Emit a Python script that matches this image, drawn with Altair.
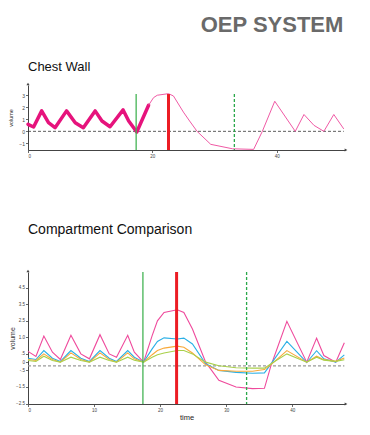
import altair as alt
import pandas as pd

# ---------------- Chest Wall (top) ----------------
cw_thick_t = [0, 0.9, 2.2, 3.3, 4.35, 6.2, 7.6, 8.9, 10.8, 11.9, 13.2, 15.3, 16.2, 17.5, 19.4]
cw_thick_v = [0.58, 0.36, 1.7, 0.72, 0.3, 1.7, 0.72, 0.3, 1.7, 0.86, 0.38, 1.78, 0.86, -0.06, 2.17]
cw_thin_t = [19.4, 20.2, 20.8, 22.6, 23.4, 25.0, 26.0, 27.2, 29.4, 32.9, 36.3, 37.7, 39.7, 43.0, 44.4, 46.0, 47.6, 49.2, 50.8]
cw_thin_v = [2.17, 2.8, 3.0, 3.13, 2.94, 1.6, 0.86, 0.0, -1.08, -1.45, -1.5, 0.0, 2.5, 0.0, 1.4, 0.5, 0.0, 1.4, 0.2]
cw_events = [17.4, 22.6, 33.2]
cw_event_top = 3.1
cw_xticks = [0, 20, 40]
cw_yticks = [-1, 0, 1, 2, 3]

# ---------------- Compartment Comparison (bottom) ----------------
cc_time = [0, 1.2, 2.4, 3.7, 4.9, 6.5, 8.0, 9.3, 10.9, 12.3, 13.4, 15.1, 16.1, 17.5, 18.8, 19.6,
           20.6, 22.6, 23.6, 24.9, 26.9, 28.9, 31.5, 34.0, 35.8, 36.8, 39.2, 42.2, 43.7, 44.8, 46.6, 47.9]
cc_pink = [0.65, 0.35, 1.58, 0.6, 0.16, 1.62, 0.5, 0.2, 1.66, 0.5, 0.3, 1.62, 0.6, 0.0, 1.6, 2.5,
           3.0, 3.17, 3.0, 2.0, 0.0, -1.1, -1.5, -1.6, -1.58, -0.2, 2.47, 0.0, 1.45, 0.4, 0.0, 1.17]
cc_blue = [0.24, 0.16, 0.7, 0.24, 0.04, 0.7, 0.24, 0.04, 0.7, 0.24, 0.04, 0.7, 0.3, 0.0, 0.8, 1.25,
           1.47, 1.4, 1.45, 1.1, -0.1, -0.5, -0.62, -0.67, -0.65, -0.1, 1.25, -0.02, 0.69, 0.2, 0.0, 0.44]
cc_orange = [0.16, 0.1, 0.5, 0.16, 0.0, 0.56, 0.16, 0.0, 0.56, 0.16, 0.0, 0.56, 0.2, 0.0, 0.45, 0.7,
             0.85, 0.97, 0.9, 0.55, -0.16, -0.5, -0.55, -0.55, -0.45, -0.15, 0.7, 0.0, 0.36, 0.15, 0.05, 0.25]
cc_lime = [0.1, 0.04, 0.36, 0.1, 0.0, 0.3, 0.1, 0.0, 0.3, 0.1, 0.0, 0.3, 0.12, 0.0, 0.3, 0.45,
           0.55, 0.7, 0.7, 0.5, 0.0, -0.22, -0.34, -0.36, -0.36, -0.1, 0.5, 0.0, 0.3, 0.12, 0.05, 0.15]
cc_series = ["pink", "blue", "orange", "lime"]
cc_colors = ["#ef4a9c", "#2bb0e6", "#f8a93a", "#a9d04a"]
cc_events = [17.4, 22.5, 33.1]
cc_baseline = -0.22
cc_xticks = [0, 10, 20, 30, 40]
cc_yticks = [4.5, 3.5, 2.5, 1.5, 0.5, 0, -0.5, -1.5, -2.5]

FONT = "Liberation Sans"
AX = "#444444"

# ---------- top chart ----------
TW, TH = 317, 65
xs_t = alt.Scale(domain=[0, 51], nice=False, zero=False)
ys_t = alt.Scale(domain=[-1.55, 3.85], nice=False, zero=False)
xa_t = alt.Axis(values=cw_xticks, title=None, labelFontSize=4.5)
ya_t = alt.Axis(values=cw_yticks, title="volume", titleFontSize=5.5, titlePadding=5, labelFontSize=5)

thick_df = pd.DataFrame({"t": cw_thick_t, "v": cw_thick_v})
thin_df = pd.DataFrame({"t": cw_thin_t, "v": cw_thin_v})
zero_df = pd.DataFrame({"a": [0], "b": [cw_thin_t[-1]], "y": [0]})
ev_df = pd.DataFrame({"t": cw_events, "top": [cw_event_top] * 3, "bot": [-1.55] * 3})

t_zero = alt.Chart(zero_df).mark_rule(color="#333", strokeDash=[3, 2], strokeWidth=0.8).encode(
    x=alt.X("a:Q", scale=xs_t, axis=xa_t), x2="b:Q", y=alt.Y("y:Q", scale=ys_t, axis=ya_t))
t_thick = alt.Chart(thick_df).mark_line(color="#e6137c", strokeWidth=3.5, strokeCap="round", strokeJoin="round").encode(
    x=alt.X("t:Q", scale=xs_t, axis=xa_t), y=alt.Y("v:Q", scale=ys_t, axis=ya_t))
t_thin = alt.Chart(thin_df).mark_line(color="#f05aa5", strokeWidth=1).encode(
    x=alt.X("t:Q", scale=xs_t, axis=xa_t), y=alt.Y("v:Q", scale=ys_t, axis=ya_t))


def ev_rules(df, xs, ys, xa, ya):
    g1 = alt.Chart(df.iloc[[0]]).mark_rule(color="#45b455", strokeWidth=1.3).encode(
        x=alt.X("t:Q", scale=xs, axis=xa), y=alt.Y("top:Q", scale=ys, axis=ya), y2="bot:Q")
    r = alt.Chart(df.iloc[[1]]).mark_rule(color="#ec1c24", strokeWidth=3).encode(
        x=alt.X("t:Q", scale=xs, axis=xa), y=alt.Y("top:Q", scale=ys, axis=ya), y2="bot:Q")
    g2 = alt.Chart(df.iloc[[2]]).mark_rule(color="#2aa84a", strokeWidth=1.3, strokeDash=[3, 2]).encode(
        x=alt.X("t:Q", scale=xs, axis=xa), y=alt.Y("top:Q", scale=ys, axis=ya), y2="bot:Q")
    return [g1, r, g2]


def arrows(w, h):
    up = alt.Chart(pd.DataFrame({"k": [0]})).mark_point(
        shape="triangle-up", filled=True, size=10, color=AX, opacity=1).encode(
        x=alt.value(0), y=alt.value(-1))
    rt = alt.Chart(pd.DataFrame({"k": [0]})).mark_point(
        shape="triangle-right", filled=True, size=10, color=AX, opacity=1).encode(
        x=alt.value(w + 1), y=alt.value(h))
    return [up, rt]


top = alt.layer(t_zero, t_thick, t_thin, *ev_rules(ev_df, xs_t, ys_t, xa_t, ya_t), *arrows(TW, TH)).properties(
    width=TW, height=TH,
    title=alt.TitleParams("Chest Wall", anchor="start", frame="group", fontSize=13, offset=9,
                          font=FONT, fontWeight="normal", color="#111"))

# ---------- bottom chart ----------
BW, BH = 317, 132
xs_b = alt.Scale(domain=[0, 48], nice=False, zero=False)
ys_b = alt.Scale(domain=[-2.53, 5.45], nice=False, zero=False)
lab_expr = ("datum.value == 1.5 ? '1.0' : datum.value == 0.5 ? '.5' : datum.value == -0.5 ? '-.5' : "
            "datum.value == 0 ? '0' : format(datum.value, '.1f')")
xa_b = alt.Axis(values=cc_xticks, title="time", titleFontSize=7.5, titlePadding=1, labelFontSize=4.5,
                titleColor="#222")
ya_b = alt.Axis(values=cc_yticks, labelExpr=lab_expr, title="volume", titleFontSize=7,
                titlePadding=0.5, labelFontSize=4.5)

rows = []
for name, vals in zip(cc_series, [cc_pink, cc_blue, cc_orange, cc_lime]):
    for t, v in zip(cc_time, vals):
        rows.append({"t": t, "v": v, "s": name})
cc_df = pd.DataFrame(rows)

b_base = alt.Chart(pd.DataFrame({"a": [0], "b": [cc_time[-1]], "y": [cc_baseline]})).mark_rule(
    color="#9a9a9a", strokeDash=[3, 2], strokeWidth=1.3).encode(
    x=alt.X("a:Q", scale=xs_b, axis=xa_b), x2="b:Q", y=alt.Y("y:Q", scale=ys_b, axis=ya_b))
b_lines = alt.Chart(cc_df).mark_line(strokeWidth=1.1).encode(
    x=alt.X("t:Q", scale=xs_b, axis=xa_b), y=alt.Y("v:Q", scale=ys_b, axis=ya_b),
    color=alt.Color("s:N", scale=alt.Scale(domain=cc_series, range=cc_colors), legend=None))
ev_b_df = pd.DataFrame({"t": cc_events, "top": [5.45] * 3, "bot": [-2.53] * 3})

bottom = alt.layer(b_base, b_lines, *ev_rules(ev_b_df, xs_b, ys_b, xa_b, ya_b), *arrows(BW, BH)).properties(
    width=BW, height=BH,
    title=alt.TitleParams("Compartment Comparison", anchor="start", frame="group", fontSize=14, offset=33,
                          font=FONT, fontWeight="normal", color="#111"))

chart = alt.vconcat(top, bottom, spacing=64).properties(
    title=alt.TitleParams("OEP SYSTEM", anchor="end", fontSize=22, font=FONT, fontWeight="bold",
                          color="#6a6a6a", offset=24, dx=-4),
    padding={"left": 0, "top": 5, "right": 5, "bottom": 5},
).configure_view(stroke=None).configure_axis(
    grid=False, domainColor=AX, tickColor=AX, domainWidth=1, tickWidth=0.8, tickSize=2.5,
    labelFont=FONT, labelColor="#444", labelPadding=1, titleFont=FONT, titleFontWeight="normal",
    titleColor="#333")

chart.save("out.html", embed_options={"renderer": "svg", "actions": False})
